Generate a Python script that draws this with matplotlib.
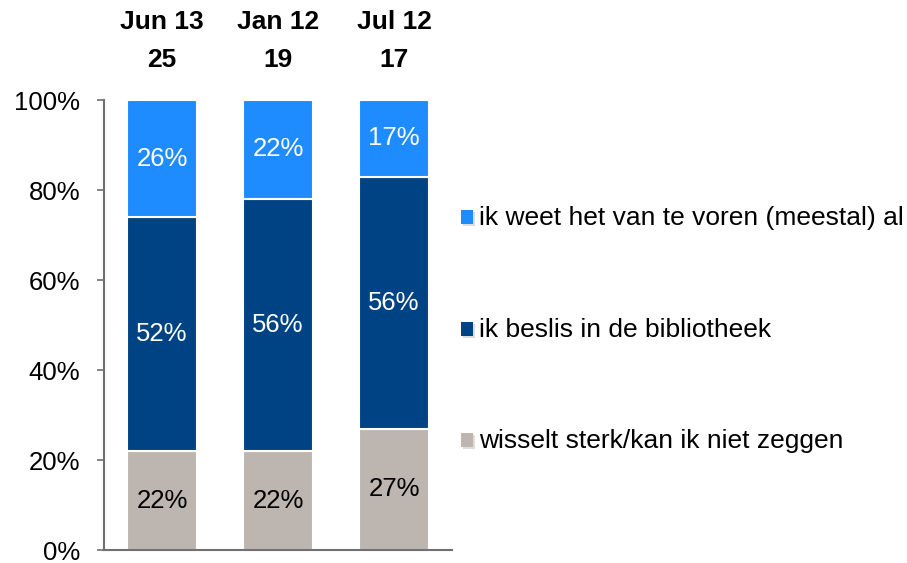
import numpy as np
import matplotlib.pyplot as plt
from matplotlib.patches import Rectangle

plt.rcParams['font.family'] = ['Liberation Sans', 'DejaVu Sans']

# data
periods = ['Jun 13', 'Jan 12', 'Jul 12']
counts = ['25', '19', '17']
wisselt = [22, 22, 27]
beslis = [52, 56, 56]
weet = [26, 22, 17]

series = [wisselt, beslis, weet]
names = ['wisselt sterk/kan ik niet zeggen',
         'ik beslis in de bibliotheek',
         'ik weet het van te voren (meestal) al']
colors = ['#BDB5B0', '#004385', '#1E8CFF']
txtcol = ['black', 'white', 'white']

fig = plt.figure(figsize=(9.07, 5.63), dpi=100)
ax = fig.add_axes([104/907, 13/563, 348/907, 450/563])

x = np.arange(len(periods))
bottom = np.zeros(len(periods))
for vals, c, tc in zip(series, colors, txtcol):
    vals = np.array(vals)
    ax.bar(x, vals, 0.6, bottom=bottom, color=c, edgecolor='white', linewidth=1.5)
    for xi, b, v in zip(x, bottom, vals):
        ax.text(xi, b + v/2, '%d%%' % v, ha='center', va='center', color=tc, fontsize=18.5)
    bottom += vals

ax.set_xlim(-0.5, 2.5)
ax.set_ylim(0, 100)
ax.set_yticks(range(0, 101, 20))
ax.set_yticklabels(['%d%%' % t for t in range(0, 101, 20)], fontsize=18.5)
ax.set_xticks([])
for s in ['top', 'right']:
    ax.spines[s].set_visible(False)
for s in ['left', 'bottom']:
    ax.spines[s].set_color('#707070')
    ax.spines[s].set_linewidth(1.5)
ax.tick_params(axis='y', length=5, width=1.2, color='#707070', pad=12)

# headers above bars
for xi, p, n in zip(x, periods, counts):
    ax.text(xi, 1.173, p, transform=ax.get_xaxis_transform(), ha='center', va='center',
            fontsize=19, fontweight='bold')
    ax.text(xi, 1.089, n, transform=ax.get_xaxis_transform(), ha='center', va='center',
            fontsize=19, fontweight='bold')

# legend on the right
leg_y = [441, 330, 218]
for name, c, yy in zip(names, colors, leg_y):
    fy = 1 - yy/563
    fig.patches.append(Rectangle((463/907, fy - 8/563), 12/907, 14/563, transform=fig.transFigure,
                                 facecolor='#dddddd', edgecolor='none'))
    fig.patches.append(Rectangle((461/907, fy - 6/563), 12/907, 14/563, transform=fig.transFigure,
                                 facecolor=c, edgecolor='none'))
    fig.text(479/907, fy, name, ha='left', va='center', fontsize=19)

fig.savefig('out.png', dpi=100)
